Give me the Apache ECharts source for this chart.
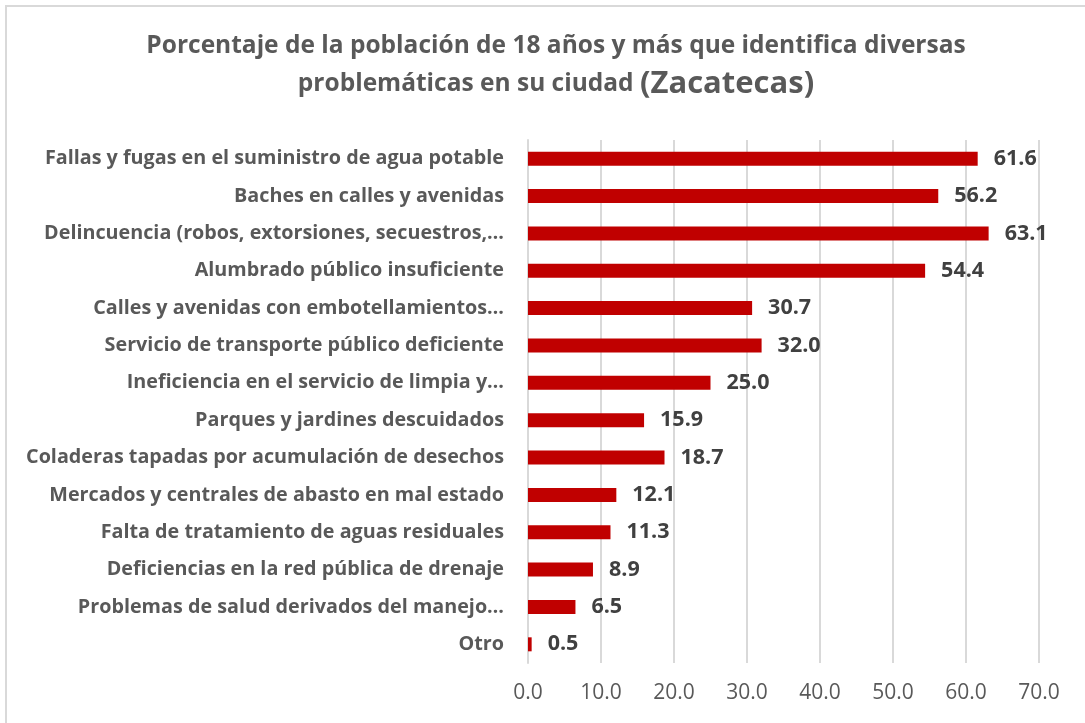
<!DOCTYPE html>
<html>
<head>
<meta charset="utf-8">
<script src="https://cdn.jsdelivr.net/npm/echarts@6/dist/echarts.min.js"></script>
<style>
  html, body { margin: 0; padding: 0; background: #ffffff; }
  #chart { width: 1085px; height: 723px; }
</style>
</head>
<body>
<div id="chart"></div>
<script>
// Categories as shown, top to bottom
const categories = [
  'Fallas y fugas en el suministro de agua potable',
  'Baches en calles y avenidas',
  'Delincuencia (robos, extorsiones, secuestros,…',
  'Alumbrado público insuficiente',
  'Calles y avenidas con embotellamientos…',
  'Servicio de transporte público deficiente',
  'Ineficiencia en el servicio de limpia y…',
  'Parques y jardines descuidados',
  'Coladeras tapadas por acumulación de desechos',
  'Mercados y centrales de abasto en mal estado',
  'Falta de tratamiento de aguas residuales',
  'Deficiencias en la red pública de drenaje',
  'Problemas de salud derivados del manejo…',
  'Otro'
];
const values = [61.6, 56.2, 63.1, 54.4, 30.7, 32.0, 25.0, 15.9, 18.7, 12.1, 11.3, 8.9, 6.5, 0.5];

const FONT = '"Open Sans", Lato, sans-serif';

const chart = echarts.init(document.getElementById('chart'));

const option = {
  backgroundColor: '#ffffff',
  animation: false,
  graphic: [
    {
      type: 'rect',
      shape: { x: 6, y: 6, width: 1090, height: 730 },
      style: { fill: 'none', stroke: '#d9d9d9', lineWidth: 2 },
      silent: true
    }
  ],
  title: {
    text: '{a|Porcentaje de la población de 18 años y más que identifica diversas}\n{a|problemáticas en su ciudad }{b|(Zacatecas)}',
    left: 551,
    textAlign: 'center',
    top: 22,
    textStyle: {
      rich: {
        a: { fontFamily: FONT, fontSize: 24.5, fontWeight: 'bold', color: '#595959', lineHeight: 38 },
        b: { fontFamily: FONT, fontSize: 31, fontWeight: 'bold', color: '#595959', lineHeight: 38 }
      }
    }
  },
  grid: { left: 528, right: 46, top: 140, bottom: 60 },
  xAxis: {
    type: 'value',
    min: 0,
    max: 70,
    interval: 10,
    axisLine: { show: false },
    axisTick: { show: false },
    splitLine: { lineStyle: { color: '#d9d9d9', width: 2 } },
    axisLabel: {
      margin: 20,
      color: '#595959',
      fontFamily: FONT,
      fontSize: 21,
      formatter: v => v.toFixed(1)
    }
  },
  yAxis: {
    type: 'category',
    inverse: true,
    data: categories,
    axisLine: { show: true, lineStyle: { color: '#d9d9d9', width: 2 } },
    axisTick: { show: false },
    axisLabel: {
      margin: 24,
      color: '#595959',
      fontFamily: FONT,
      fontSize: 19.75,
      fontWeight: 'bold'
    }
  },
  series: [
    {
      type: 'bar',
      data: values,
      barWidth: 14,
      itemStyle: { color: '#c00000' },
      label: {
        show: true,
        position: 'right',
        distance: 16,
        color: '#404040',
        fontFamily: FONT,
        fontSize: 21.5,
        fontWeight: 'bold',
        formatter: p => p.value.toFixed(1)
      }
    }
  ]
};

chart.setOption(option);
</script>
</body>
</html>
